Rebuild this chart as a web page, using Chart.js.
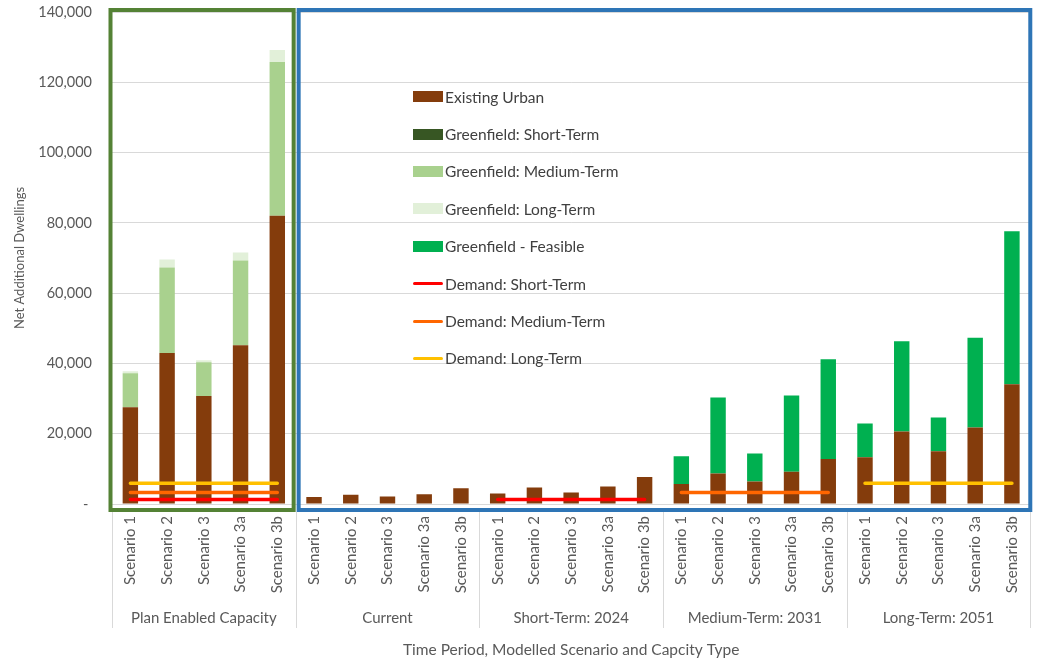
<!DOCTYPE html>
<html>
<head>
<meta charset="utf-8">
<script src="https://cdn.jsdelivr.net/npm/chart.js@4.4.1/dist/chart.umd.min.js"></script>
<style>
  html, body { margin: 0; padding: 0; background: #fff; }
  #wrap { position: relative; width: 1042px; height: 664px; }
  #legend { position: absolute; left: 413px; top: 78px; font-family: Lato, sans-serif; font-size: 15.5px; color: #404040; }
  #legend .item { display: flex; align-items: center; height: 37.4px; white-space: nowrap; }
  #legend .mark { width: 30px; margin-right: 2px; }
</style>
</head>
<body>
<div id="wrap">
  <canvas id="chart" width="1042" height="664"></canvas>
  <div id="legend"></div>
</div>
<script>
// Categories: 5 scenarios repeated for each period / capacity type
const groups = ['Plan Enabled Capacity', 'Current', 'Short-Term: 2024', 'Medium-Term: 2031', 'Long-Term: 2051'];
const scenarios = ['Scenario 1', 'Scenario 2', 'Scenario 3', 'Scenario 3a', 'Scenario 3b'];
const labels = groups.flatMap(() => scenarios);

// Stacked bar values (net additional dwellings)
const existingUrban = [27500, 43000, 30700, 45200, 82000,
  2000, 2600, 2100, 2800, 4500,
  3000, 4700, 3300, 5000, 7700,
  5700, 8700, 6400, 9200, 12800,
  13300, 20600, 15000, 21800, 34100];
const greenShort = [null, null, null, null, null,
  null, null, null, null, null,
  null, null, null, null, null,
  null, null, null, null, null,
  null, null, null, null, null];
const greenMedium = [9700, 24300, 9600, 24100, 43800,
  null, null, null, null, null,
  null, null, null, null, null,
  null, null, null, null, null,
  null, null, null, null, null];
const greenLong = [600, 2300, 600, 2300, 3400,
  null, null, null, null, null,
  null, null, null, null, null,
  null, null, null, null, null,
  null, null, null, null, null];
const greenFeasible = [null, null, null, null, null,
  null, null, null, null, null,
  null, null, null, null, null,
  7900, 21600, 8000, 21700, 28400,
  9600, 25700, 9600, 25500, 43500];

// Demand lines
const demandShort = [1300, 1300, 1300, 1300, 1300,
  null, null, null, null, null,
  1300, 1300, 1300, 1300, 1300,
  null, null, null, null, null,
  null, null, null, null, null];
const demandMedium = [3300, 3300, 3300, 3300, 3300,
  null, null, null, null, null,
  null, null, null, null, null,
  3300, 3300, 3300, 3300, 3300,
  null, null, null, null, null];
const demandLong = [5900, 5900, 5900, 5900, 5900,
  null, null, null, null, null,
  null, null, null, null, null,
  null, null, null, null, null,
  5900, 5900, 5900, 5900, 5900];

const textColor = '#595959';
const font = 'Lato, sans-serif';

function bar(label, data, color) {
  return { type: 'bar', label, data, backgroundColor: color, borderWidth: 0,
    barPercentage: 0.42, categoryPercentage: 1 };
}
function line(label, data, color, stack) {
  return { type: 'line', label, data, borderColor: color, backgroundColor: color,
    borderWidth: 3.5, borderCapStyle: 'round', pointRadius: 0, tension: 0,
    spanGaps: false, stack, order: -1 };
}

// Frames around plan capacity / modelled groups, plus group labels under the axis
const groupFrames = {
  id: 'groupFrames',
  afterDatasetsDraw(chart) {
    const { ctx, chartArea: a } = chart;
    const step = (a.right - a.left) / labels.length;
    const edge = (k) => a.left + k * step;
    ctx.save();
    ctx.lineWidth = 4;
    ctx.strokeStyle = '#548235';
    ctx.strokeRect(edge(0) - 1.5, a.top - 2, edge(5) - edge(0) - 0.5, a.bottom - a.top + 8);
    ctx.strokeStyle = '#2E75B6';
    ctx.strokeRect(edge(5) + 3, a.top - 2, edge(25) - edge(5) - 3, a.bottom - a.top + 8);
    ctx.restore();
  },
  afterDraw(chart) {
    const { ctx, chartArea: a } = chart;
    const step = (a.right - a.left) / labels.length;
    ctx.save();
    ctx.strokeStyle = '#d9d9d9';
    ctx.lineWidth = 1;
    for (let g = 0; g <= groups.length; g++) {
      const x = Math.round(a.left + g * 5 * step) + 0.5;
      ctx.beginPath();
      ctx.moveTo(x, a.bottom + 8);
      ctx.lineTo(x, 628);
      ctx.stroke();
    }
    ctx.fillStyle = textColor;
    ctx.font = '15px ' + font;
    ctx.textAlign = 'center';
    ctx.textBaseline = 'middle';
    groups.forEach((g, i) => {
      ctx.fillText(g, a.left + (i * 5 + 2.5) * step, 618);
    });
    ctx.restore();
  }
};

const chart = new Chart(document.getElementById('chart'), {
  data: {
    labels,
    datasets: [
      bar('Existing Urban', existingUrban, '#843C0C'),
      bar('Greenfield: Short-Term', greenShort, '#375623'),
      bar('Greenfield: Medium-Term', greenMedium, '#A9D18E'),
      bar('Greenfield: Long-Term', greenLong, '#E2F0D9'),
      bar('Greenfield - Feasible', greenFeasible, '#00B050'),
      line('Demand: Short-Term', demandShort, '#FF0000', 'd1'),
      line('Demand: Medium-Term', demandMedium, '#FF6600', 'd2'),
      line('Demand: Long-Term', demandLong, '#FFC000', 'd3'),
    ],
  },
  options: {
    responsive: false,
    animation: false,
    devicePixelRatio: 1,
    layout: { padding: { left: 0, right: 4, top: 12, bottom: 0 } },
    plugins: { legend: { display: false }, tooltip: { enabled: false } },
    scales: {
      x: {
        stacked: true,
        grid: { display: false, drawTicks: false },
        border: { display: false },
        ticks: { autoSkip: false, minRotation: 90, maxRotation: 90, padding: 12,
          color: textColor, font: { family: font, size: 15 } },
        title: { display: true, text: 'Time Period, Modelled Scenario and Capcity Type',
          color: textColor, font: { family: font, size: 15.5 }, padding: { top: 4, bottom: 5 } },
        afterFit: (s) => { s.height = 160; },
      },
      y: {
        stacked: true,
        min: 0,
        max: 140000,
        // invisible tick marks make the gap between labels and plot
        grid: { color: '#d9d9d9', drawTicks: true, tickLength: 20, tickColor: 'rgba(0,0,0,0)' },
        border: { display: false },
        ticks: { stepSize: 20000, padding: 0, color: textColor, font: { family: font, size: 14.5 },
          callback: (v) => (v === 0 ? '- ' : v.toLocaleString('en-US')) },
        title: { display: true, text: 'Net Additional Dwellings', color: textColor,
          font: { family: font, size: 13 }, padding: { top: 12, bottom: 0 } },
        afterFit: (s) => { s.width = 112; },
      },
    },
  },
  plugins: [groupFrames],
});

// Legend inside the plot, built from the datasets
const legendEl = document.getElementById('legend');
chart.data.datasets.forEach((ds) => {
  const item = document.createElement('div');
  item.className = 'item';
  const mark = document.createElement('span');
  mark.className = 'mark';
  const isLine = ds.type === 'line';
  mark.style.height = isLine ? '3px' : '11px';
  mark.style.background = isLine ? ds.borderColor : ds.backgroundColor;
  if (isLine) mark.style.borderRadius = '2px';
  const txt = document.createElement('span');
  txt.textContent = ds.label;
  item.appendChild(mark);
  item.appendChild(txt);
  legendEl.appendChild(item);
});
</script>
</body>
</html>
